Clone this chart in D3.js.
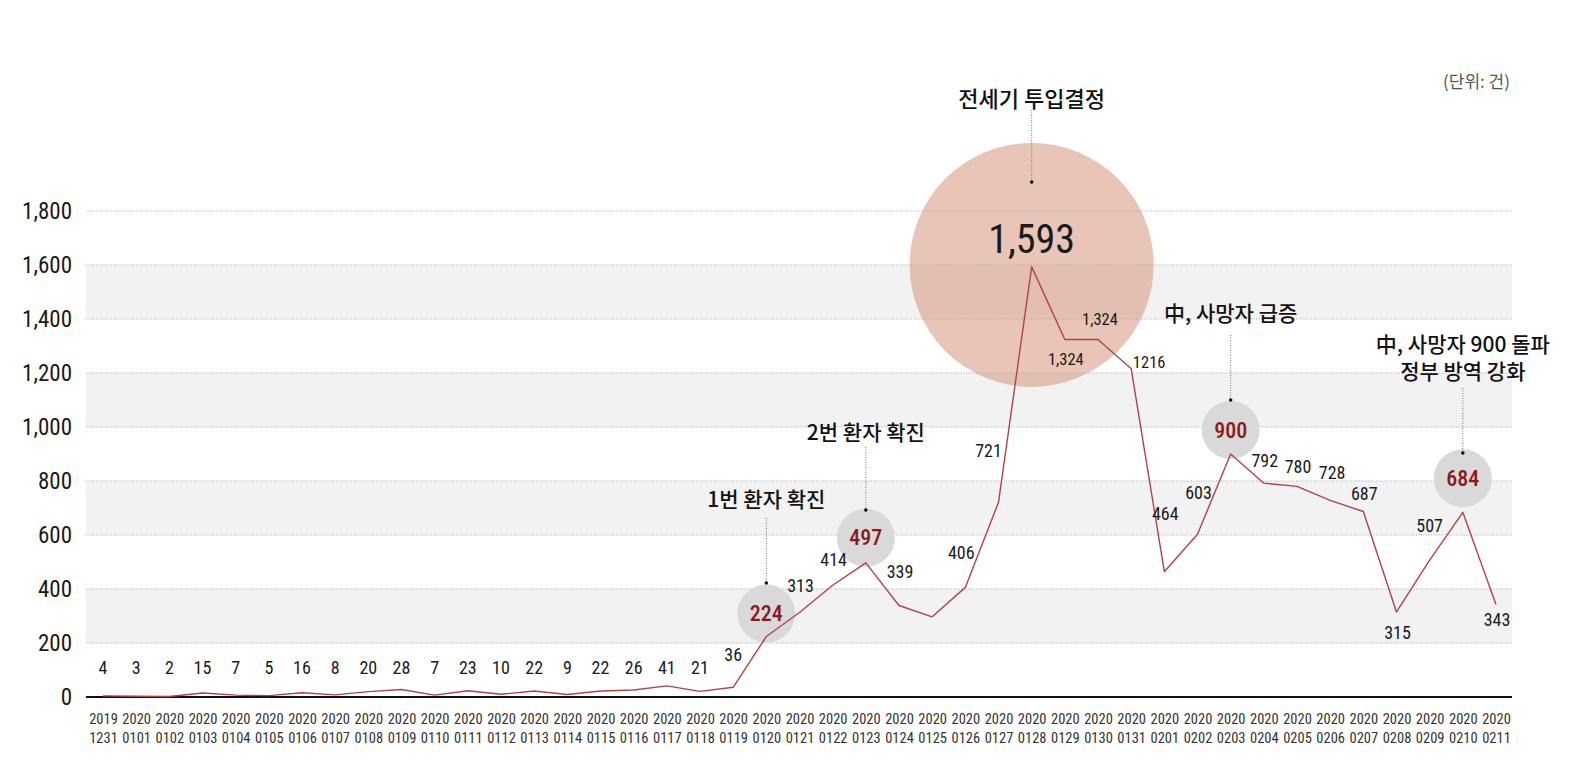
<!DOCTYPE html>
<html>
<head>
<meta charset="utf-8">
<script src="https://cdn.jsdelivr.net/npm/d3@7"></script>
<style>
  body { margin: 0; background: #fff; }
  .num { font-family: "Roboto Condensed", "Liberation Sans Narrow", Roboto, sans-serif; font-weight: 400; }
  .kr { font-family: "Noto Sans CJK KR", "Noto Sans", sans-serif; }
</style>
</head>
<body>
<div id="chart"></div>
<script>
// Data
var dates = ["20191231","20200101","20200102","20200103","20200104","20200105","20200106","20200107",
  "20200108","20200109","20200110","20200111","20200112","20200113","20200114","20200115","20200116",
  "20200117","20200118","20200119","20200120","20200121","20200122","20200123","20200124","20200125",
  "20200126","20200127","20200128","20200129","20200130","20200131","20200201","20200202","20200203",
  "20200204","20200205","20200206","20200207","20200208","20200209","20200210","20200211"];

var values = [4,3,2,15,7,5,16,8,20,28,7,23,10,22,9,22,26,41,21,36,
  224,313,414,497,339,297,406,721,1593,1324,1324,1216,
  464,603,900,792,780,728,687,315,507,684,343];

var valueLabels = ["4","3","2","15","7","5","16","8","20","28","7","23","10","22","9","22","26","41","21","36",
  "224","313","414","497","339",null,"406","721","1,593","1,324","1,324","1216",
  "464","603","900","792","780","728","687","315","507","684","343"];

var yTicks = [0,200,400,600,800,1000,1200,1400,1600,1800];

var highlightDates = ["20200120","20200123","20200203","20200210"];
var peakDate = "20200128";

var annotationDates = ["20200120","20200123","20200128","20200203","20200210"];
var annotationTexts = [["1번 환자 확진"],["2번 환자 확진"],["전세기 투입결정"],["中, 사망자 급증"],["中, 사망자 900 돌파","정부 방역 강화"]];

var unitText = "(단위: 건)";

// Layout
var svgWidth = 1569, svgHeight = 781;
var plotLeft = 86, plotRight = 1512;

// label offsets relative to each point (center of text)
var labelOffset = {
  "20200119": [0,-33], "20200120": [0,-23], "20200121": [1,-27], "20200122": [1,-26],
  "20200123": [0,-25], "20200124": [1,-34], "20200126": [-4,-35], "20200127": [-10,-52],
  "20200128": [0,-27], "20200129": [1,20], "20200130": [2,-20], "20200131": [18,-6],
  "20200201": [1,-58], "20200202": [1,-42], "20200203": [0,-24], "20200204": [1,-23],
  "20200205": [1,-20], "20200206": [2,-28], "20200207": [1,-18], "20200208": [1,21],
  "20200209": [0,-35], "20200210": [0,-34], "20200211": [1,15]
};
var earlyRowY = 667;

// annotation text/leader positions: [firstLineY, leaderTop, leaderBottom]
var annoLayout = {
  "20200120": [498, 518, 583],
  "20200123": [431, 447, 510],
  "20200128": [97, 110, 182],
  "20200203": [312, 335, 400],
  "20200210": [343, 388, 453]
};

var svg = d3.select("#chart")
  .append("svg")
  .attr("width", svgWidth)
  .attr("height", svgHeight);

var x = d3.scalePoint()
  .domain(dates)
  .range([103, 1496]);

var y = d3.scaleLinear()
  .domain([0, 1800])
  .range([697, 211]);

// shaded bands
var bands = yTicks.filter(function(t, i) { return i % 2 === 1 && t < 1800; });
svg.append("g").selectAll("rect")
  .data(bands)
  .enter()
  .append("rect")
  .attr("x", plotLeft)
  .attr("width", plotRight - plotLeft)
  .attr("y", d => y(d + 200))
  .attr("height", d => y(d) - y(d + 200))
  .attr("fill", "#f2f2f2");

// peak circle (semi transparent)
var peakIdx = dates.indexOf(peakDate);
svg.append("circle")
  .attr("cx", x(peakDate))
  .attr("cy", y(values[peakIdx]) - 2)
  .attr("r", 122)
  .attr("fill", "rgb(210,140,110)")
  .attr("fill-opacity", 0.5);

// gridlines
svg.append("g").selectAll("line")
  .data(yTicks.filter(d => d > 0))
  .enter()
  .append("line")
  .attr("x1", plotLeft)
  .attr("x2", plotRight)
  .attr("y1", d => y(d))
  .attr("y2", d => y(d))
  .attr("stroke", "#aaa")
  .attr("stroke-width", 1)
  .attr("stroke-dasharray", "1,1.5");

// y axis
var leftAxis = d3.axisLeft(y)
  .tickValues(yTicks)
  .tickFormat(d3.format(","))
  .tickSize(0)
  .tickPadding(14);
var yAxis = svg.append("g")
  .attr("transform", `translate(${plotLeft}, 0)`)
  .call(leftAxis);
yAxis.select(".domain").remove();
yAxis.selectAll("text")
  .attr("class", "num")
  .attr("font-size", "23px")
  .attr("fill", "#1a1a1a");

// base line
svg.append("line")
  .attr("x1", plotLeft)
  .attr("x2", plotRight)
  .attr("y1", y(0))
  .attr("y2", y(0))
  .attr("stroke", "#111")
  .attr("stroke-width", 2);

// x axis
var bottomAxis = d3.axisBottom(x).tickSize(0).tickPadding(0).tickFormat("");
var xAxis = svg.append("g")
  .attr("transform", `translate(0, ${y(0)})`)
  .call(bottomAxis);
xAxis.select(".domain").remove();
xAxis.selectAll(".tick").each(function(d) {
  var t = d3.select(this).append("text")
    .attr("class", "num")
    .attr("text-anchor", "middle")
    .attr("font-size", "14.5px")
    .attr("fill", "#333");
  t.append("tspan").attr("x", 0).attr("y", 27).text(d.slice(0, 4));
  t.append("tspan").attr("x", 0).attr("y", 46).text(d.slice(4));
});

// highlight circles
svg.append("g").selectAll("circle")
  .data(highlightDates)
  .enter()
  .append("circle")
  .attr("cx", d => x(d) + labelOffset[d][0])
  .attr("cy", d => y(values[dates.indexOf(d)]) + labelOffset[d][1])
  .attr("r", 29)
  .attr("fill", "#d9d9d9");

// line
var line = d3.line()
  .x((d, i) => x(dates[i]))
  .y(d => y(d));
svg.append("path")
  .datum(values)
  .attr("d", line)
  .attr("fill", "none")
  .attr("stroke", "#b0434a")
  .attr("stroke-width", 1.4)
  .attr("stroke-linejoin", "round");

// value labels
svg.append("g").selectAll("text")
  .data(dates.filter((d, i) => valueLabels[i] !== null))
  .enter()
  .append("text")
  .attr("class", "num")
  .attr("text-anchor", "middle")
  .attr("dominant-baseline", "central")
  .attr("x", d => x(d) + (labelOffset[d] ? labelOffset[d][0] : 0))
  .attr("y", d => labelOffset[d] ? y(values[dates.indexOf(d)]) + labelOffset[d][1] : earlyRowY)
  .attr("font-size", function(d) {
    if (d === peakDate) return "40px";
    if (highlightDates.indexOf(d) >= 0) return "22px";
    if (d === "20200129" || d === "20200130" || d === "20200131") return "16.5px";
    return "18px";
  })
  .style("font-weight", d => highlightDates.indexOf(d) >= 0 ? "500" : "400")
  .attr("fill", d => highlightDates.indexOf(d) >= 0 ? "#8b1a1a" : "#1a1a1a")
  .text(d => valueLabels[dates.indexOf(d)]);

// annotations
annotationDates.forEach(function(d, i) {
  var lay = annoLayout[d];
  var g = svg.append("g");
  var t = g.append("text")
    .attr("class", "kr")
    .attr("text-anchor", "middle")
    .attr("font-size", d === peakDate ? "22px" : "21px")
    .attr("font-weight", "500")
    .attr("fill", "#111");
  annotationTexts[i].forEach(function(s, j) {
    t.append("tspan")
      .attr("x", x(d))
      .attr("y", lay[0] + j * 27)
      .attr("dominant-baseline", "central")
      .text(s);
  });
  g.append("line")
    .attr("x1", x(d)).attr("x2", x(d))
    .attr("y1", lay[1]).attr("y2", lay[2])
    .attr("stroke", "#777")
    .attr("stroke-width", 1)
    .attr("stroke-dasharray", "1,1.5");
  g.append("circle")
    .attr("cx", x(d))
    .attr("cy", lay[2])
    .attr("r", 1.8)
    .attr("fill", "#111");
});

// unit
svg.append("text")
  .attr("class", "kr")
  .attr("x", 1510)
  .attr("y", 80)
  .attr("text-anchor", "end")
  .attr("dominant-baseline", "central")
  .attr("font-size", "17px")
  .attr("fill", "#555")
  .text(unitText);
</script>
</body>
</html>
